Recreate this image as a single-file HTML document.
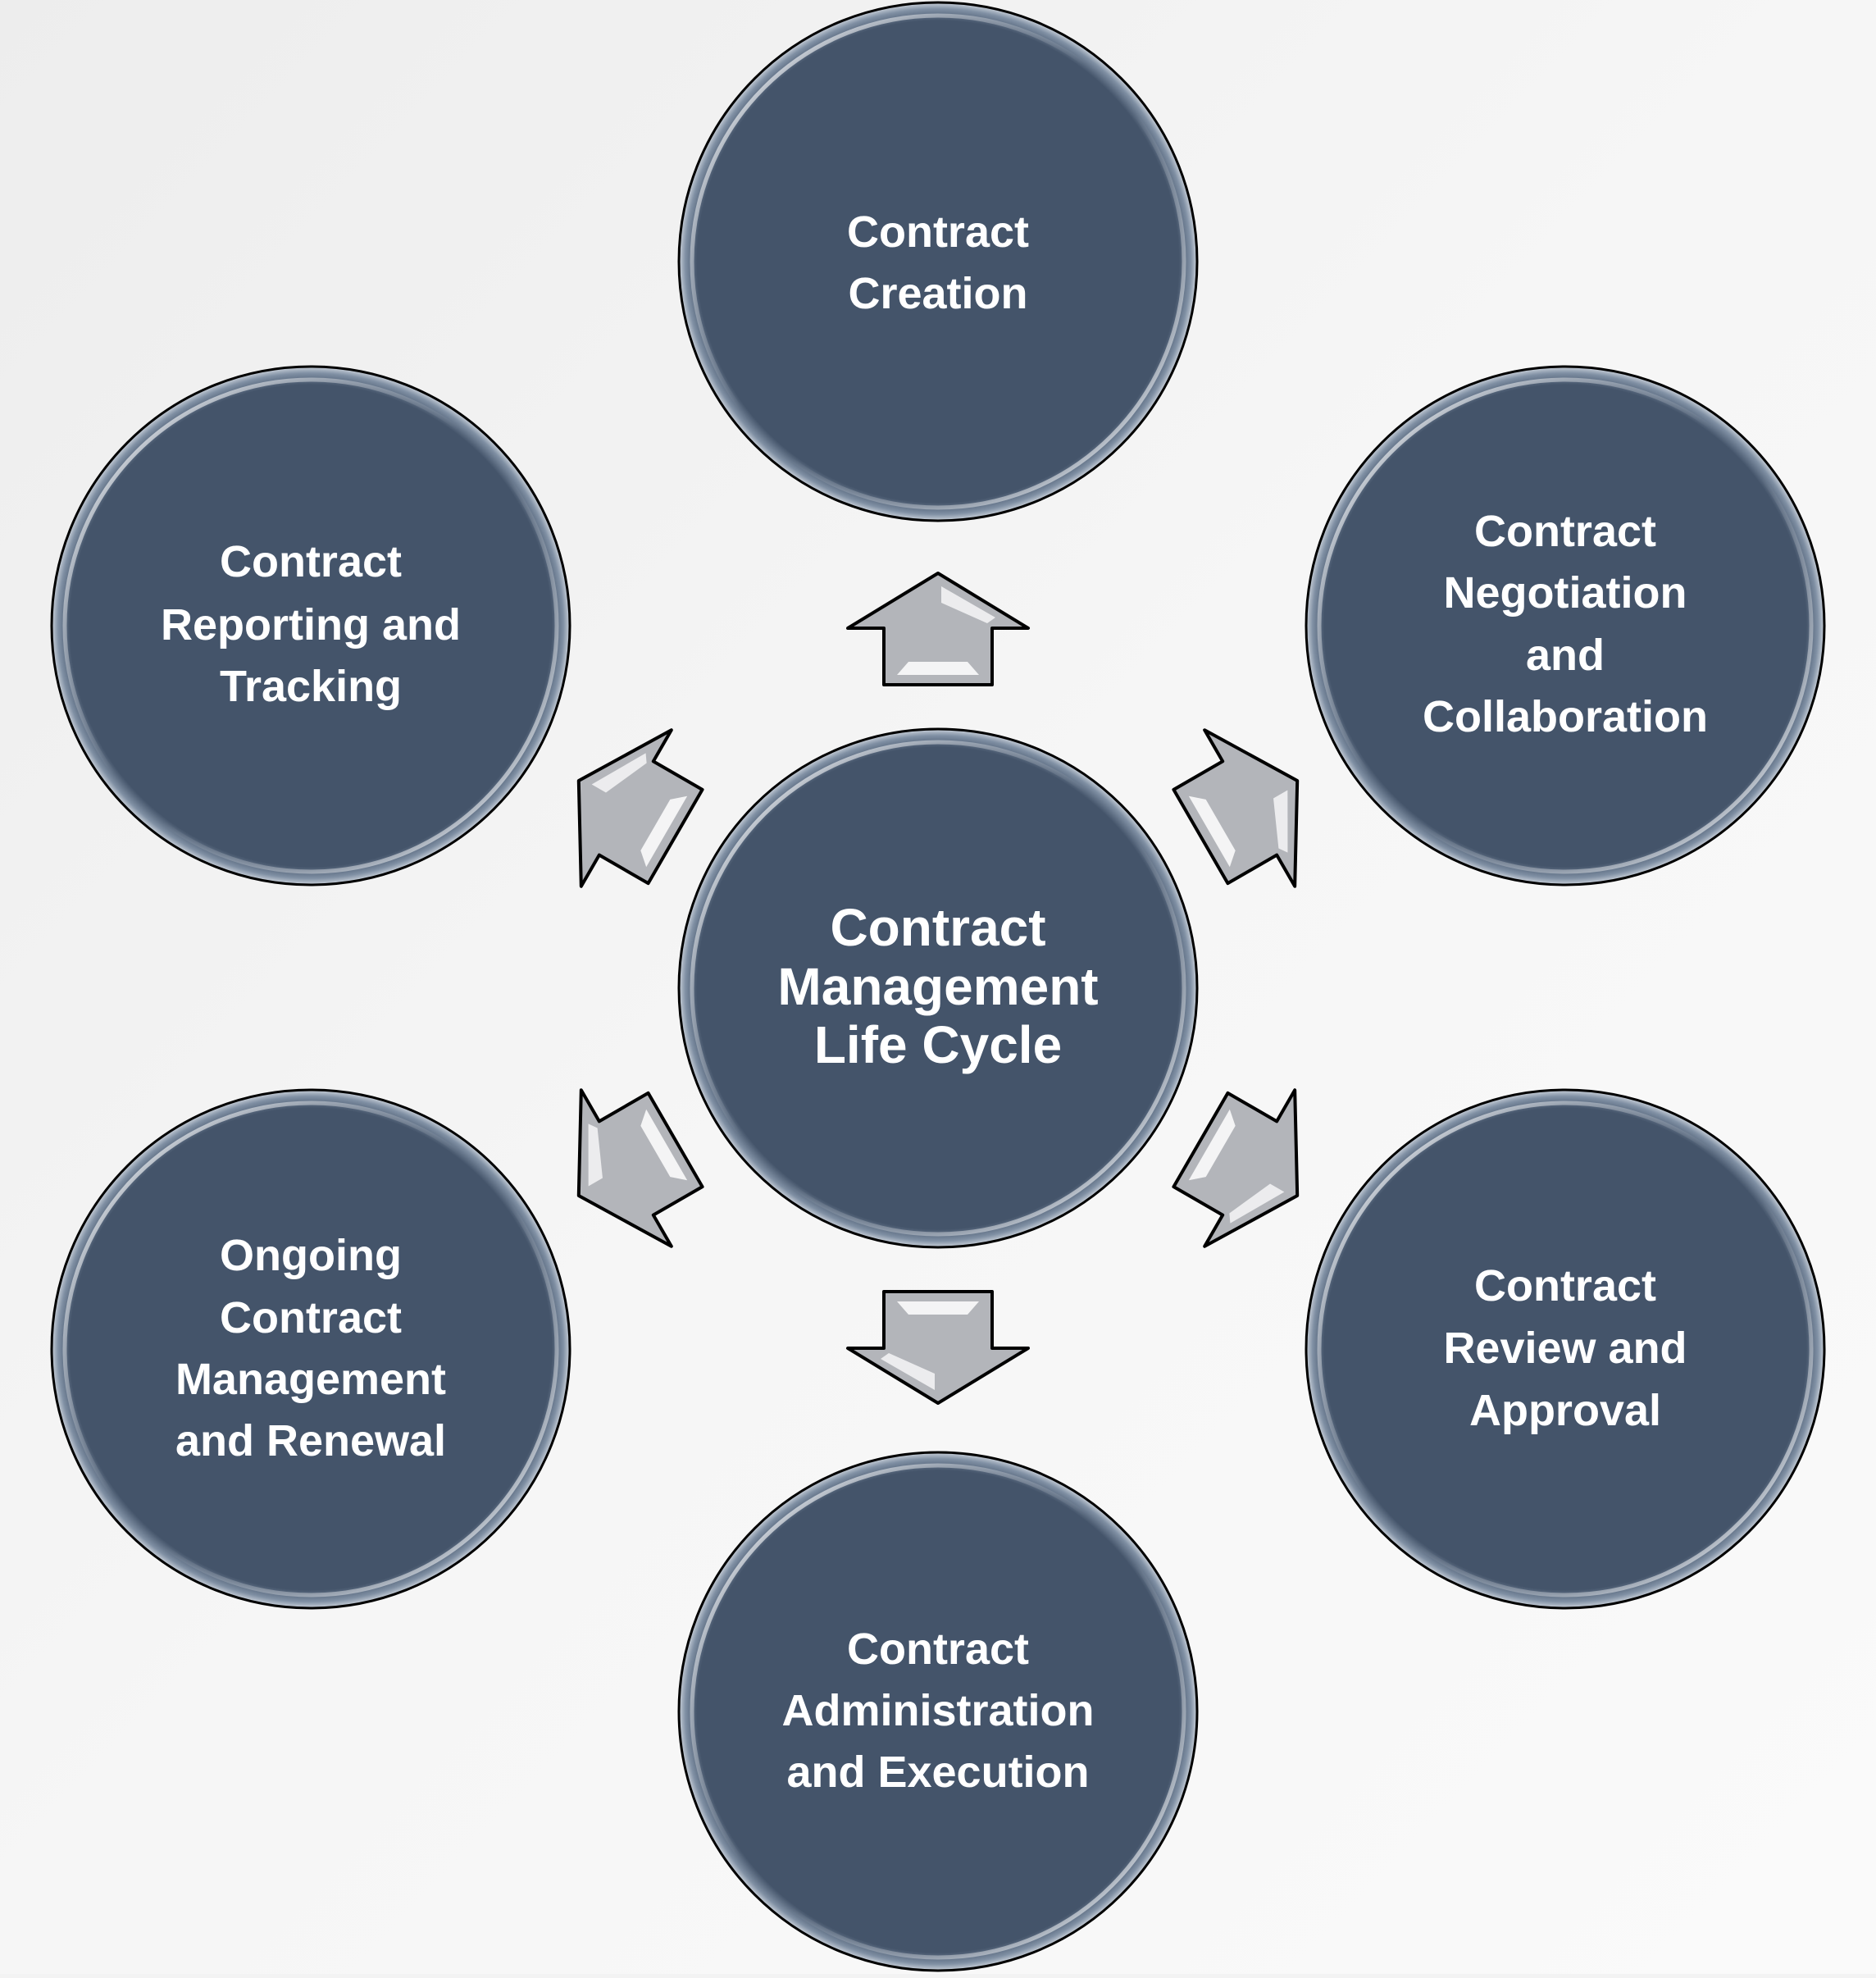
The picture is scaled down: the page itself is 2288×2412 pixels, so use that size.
<!DOCTYPE html>
<html><head><meta charset="utf-8"><style>
html,body{margin:0;padding:0;}
body{width:2288px;height:2407px;overflow:hidden;background:#f3f3f3;}
text{font-family:"Liberation Sans",Arial,sans-serif;font-weight:bold;fill:#fff;text-anchor:middle;dominant-baseline:central;}
</style></head><body>
<svg width="2288" height="2407" viewBox="0 0 2288 2407" xmlns="http://www.w3.org/2000/svg">
<defs>
<linearGradient id="bg" x1="0" y1="0" x2="1" y2="1">
<stop offset="0" stop-color="#ededed"/><stop offset="0.5" stop-color="#f6f6f6"/><stop offset="1" stop-color="#fafafa"/>
</linearGradient>
<radialGradient id="cf" cx="0.5" cy="0.5" r="0.5">
<stop offset="0" stop-color="#44546a"/><stop offset="0.93" stop-color="#44546a"/><stop offset="0.975" stop-color="#8090a4"/><stop offset="1" stop-color="#c9d0d9"/>
</radialGradient>
<linearGradient id="hl" x1="0" y1="0" x2="1" y2="1">
<stop offset="0" stop-color="#ffffff" stop-opacity="0.9"/><stop offset="0.45" stop-color="#ffffff" stop-opacity="0"/><stop offset="0.55" stop-color="#ffffff" stop-opacity="0"/><stop offset="1" stop-color="#ffffff" stop-opacity="0.8"/>
</linearGradient>
<g id="circ">
<circle r="316" fill="url(#cf)" stroke="#000" stroke-width="3"/>
<circle r="300" fill="none" stroke="url(#hl)" stroke-width="5"/>
</g>
<g id="arr">
<path d="M0,-506 L110,-439 L66,-439 L66,-370 L-66,-370 L-66,-439 L-110,-439 Z" fill="#b3b5ba" stroke="#000" stroke-width="4" stroke-linejoin="round"/>
<path d="M-50,-382 L50,-382 L36,-398 L-36,-398 Z" fill="#fff" opacity="0.85"/>
<path d="M4,-490 L4,-470 L60,-445 L70,-452 Z" fill="#fff" opacity="0.75"/>
</g>
</defs>
<rect width="2288" height="2407" fill="url(#bg)"/>
<g transform="translate(1144,1205)">
<use href="#arr"/>
<use href="#arr" transform="rotate(60)"/>
<use href="#arr" transform="rotate(120)"/>
<use href="#arr" transform="rotate(180)"/>
<use href="#arr" transform="rotate(240)"/>
<use href="#arr" transform="rotate(300)"/>
</g>
<use href="#circ" x="1144" y="319"/>
<use href="#circ" x="1144" y="1205"/>
<use href="#circ" x="1909" y="763"/>
<use href="#circ" x="379" y="763"/>
<use href="#circ" x="1909" y="1645"/>
<use href="#circ" x="379" y="1645"/>
<use href="#circ" x="1144" y="2087"/>
<g font-size="54">
<text x="1144" y="283">Contract</text><text x="1144" y="358">Creation</text>
<text x="379" y="685">Contract</text><text x="379" y="762">Reporting and</text><text x="379" y="837">Tracking</text>
<text x="1909" y="648">Contract</text><text x="1909" y="723">Negotiation</text><text x="1909" y="799">and</text><text x="1909" y="874">Collaboration</text>
<text x="1909" y="1568">Contract</text><text x="1909" y="1644">Review and</text><text x="1909" y="1720">Approval</text>
<text x="379" y="1531">Ongoing</text><text x="379" y="1607">Contract</text><text x="379" y="1682">Management</text><text x="379" y="1757">and Renewal</text>
<text x="1144" y="2011">Contract</text><text x="1144" y="2086">Administration</text><text x="1144" y="2161">and Execution</text>
</g>
<g font-size="64">
<text x="1144" y="1131">Contract</text><text x="1144" y="1203">Management</text><text x="1144" y="1274">Life Cycle</text>
</g>
</svg>
</body></html>
